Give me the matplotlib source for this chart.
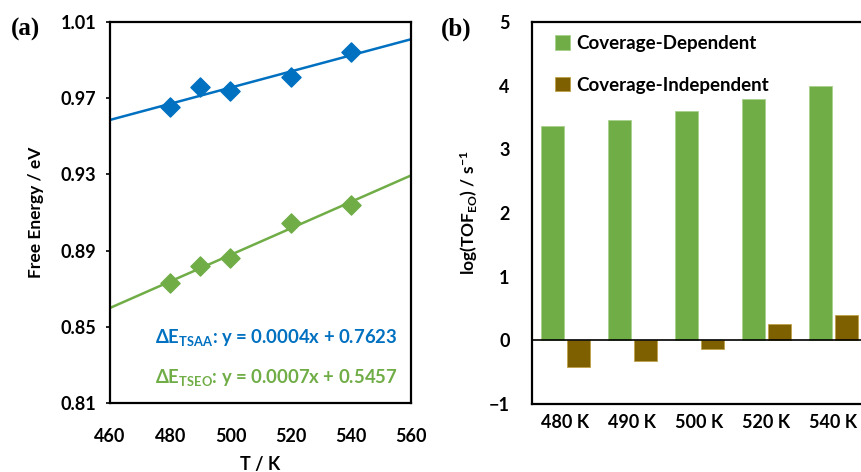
import numpy as np
import matplotlib
matplotlib.use('Agg')
import matplotlib.pyplot as plt

plt.rcParams['font.family'] = ['Lato', 'DejaVu Sans']
plt.rcParams['font.weight'] = 'bold'
plt.rcParams['mathtext.fontset'] = 'custom'
plt.rcParams['mathtext.rm'] = 'Lato:bold'
plt.rcParams['mathtext.it'] = 'Lato:bold'
plt.rcParams['mathtext.bf'] = 'Lato:bold'

# panel (a) data
temps = [480, 490, 500, 520, 540]
e_tsaa = [0.9654, 0.9759, 0.9738, 0.9810, 0.9943]
e_tseo = [0.8730, 0.8819, 0.8861, 0.9045, 0.9140]

# panel (b) data
cats = ['480 K', '490 K', '500 K', '520 K', '540 K']
cov_dep = [3.36, 3.46, 3.61, 3.79, 4.00]
cov_indep = [-0.42, -0.33, -0.14, 0.25, 0.40]

blue = '#0070C0'
green = '#70AD47'
brown = '#7F6000'

fig = plt.figure(figsize=(8.61, 4.72), dpi=100)

# ---- (a)
ax1 = fig.add_axes([0.1278, 0.1462, 0.3496, 0.8072])
xx = np.array([460, 560])
for y, c in [(e_tsaa, blue), (e_tseo, green)]:
    k, b = np.polyfit(temps, y, 1)
    ax1.plot(xx, k * xx + b, color=c, lw=1.8)
    ax1.scatter(temps, y, marker='D', s=95, color=c, zorder=3)
ax1.set_xlim(460, 560)
ax1.set_ylim(0.81, 1.01)
ax1.set_xticks([460, 480, 500, 520, 540, 560])
ax1.set_yticks([0.81, 0.85, 0.89, 0.93, 0.97, 1.01])
ax1.tick_params(axis='x', length=0, pad=18, labelsize=13)
ax1.tick_params(axis='y', length=3, width=1.2, direction='out', pad=7, labelsize=13)
for s in ax1.spines.values():
    s.set_linewidth(1.6)
ax1.set_xlabel('T / K', fontsize=13, fontweight='bold', labelpad=8)
ax1.set_ylabel('Free Energy / eV', fontsize=12.5, fontweight='bold', labelpad=12)
ax1.text(0.955, 0.172, r'ΔE$_{\mathregular{TSAA}}$: y = 0.0004x + 0.7623', transform=ax1.transAxes,
         ha='right', va='center', color=blue, fontsize=13.3, fontweight='bold')
ax1.text(0.955, 0.066, r'ΔE$_{\mathregular{TSEO}}$: y = 0.0007x + 0.5457', transform=ax1.transAxes,
         ha='right', va='center', color=green, fontsize=13.3, fontweight='bold')
fig.text(0.013, 0.937, '(a)', family='Liberation Serif', fontsize=18, fontweight='bold', va='center')

# ---- (b)
ax2 = fig.add_axes([0.6179, 0.144, 0.389, 0.8093])
x = np.arange(len(cats))
w = 0.34
ax2.bar(x - 0.19, cov_dep, w, color=green, edgecolor='#A9D18E', lw=0.6, label='Coverage-Dependent')
ax2.bar(x + 0.19, cov_indep, w, color=brown, edgecolor='#BFA14A', lw=0.6, label='Coverage-Independent')
ax2.axhline(0, color='black', lw=1.2)
ax2.set_xlim(-0.5, len(cats) - 0.5)
ax2.set_ylim(-1, 5)
ax2.set_xticks(x)
ax2.set_xticklabels(cats)
ax2.set_yticks(range(-1, 6))
ax2.tick_params(axis='both', length=0, labelsize=13)
ax2.tick_params(axis='y', pad=16)
ax2.tick_params(axis='x', pad=7)
for s in ax2.spines.values():
    s.set_linewidth(1.6)
ax2.set_ylabel(r'log(TOF$_{\mathregular{EO}}$) / s$^{\mathregular{-1}}$', fontsize=12.5, fontweight='bold', labelpad=6)
ax2.legend(loc='upper left', frameon=False, fontsize=13.5, handlelength=0.8, handleheight=0.8,
           handletextpad=0.35, labelspacing=1.3, borderaxespad=0.3, bbox_to_anchor=(0.03, 1.0))
fig.text(0.512, 0.937, '(b)', family='Liberation Serif', fontsize=18, fontweight='bold', va='center')

fig.savefig('out.png', dpi=100)
